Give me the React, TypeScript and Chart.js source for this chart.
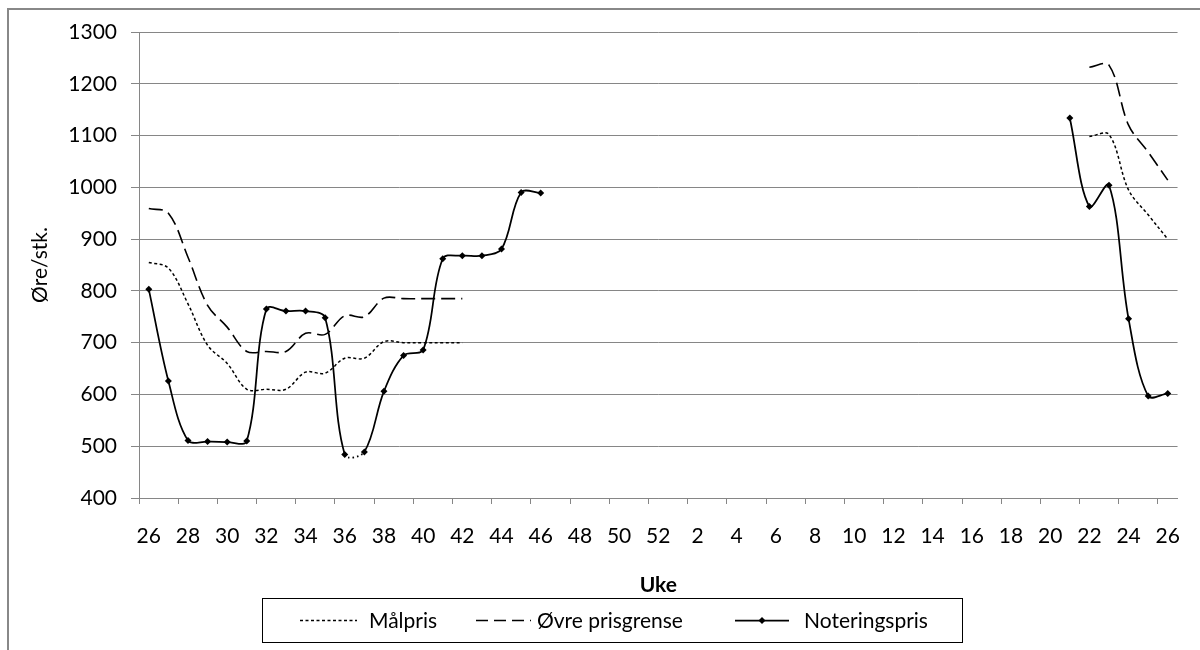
import React, { useEffect, useRef } from "react";
import { Chart, registerables } from "chart.js";

Chart.register(...registerables);

const FONT = "Lato, 'Open Sans', sans-serif";

const weeks = [
  "26", "27", "28", "29", "30", "31", "32", "33", "34", "35", "36", "37", "38", "39",
  "40", "41", "42", "43", "44", "45", "46", "47", "48", "49", "50", "51", "52",
  "1", "2", "3", "4", "5", "6", "7", "8", "9", "10", "11", "12", "13", "14", "15",
  "16", "17", "18", "19", "20", "21", "22", "23", "24", "25", "26",
];

const seriesNames = ["Målpris", "Øvre prisgrense", "Noteringspris"];

const malpris = [
  855, 844, 775, 695, 660, 610, 610, 610, 643, 641, 670, 670, 702, 700, 700, 700, 700,
  null, null, null, null, null, null, null, null, null, null,
  null, null, null, null, null, null, null, null, null, null,
  null, null, null, null, null, null, null, null, null, null, null,
  1098, 1102, 995, 947, 900,
];

const ovrePrisgrense = [
  959, 950, 865, 772, 730, 683, 683, 683, 718, 716, 752, 750, 786, 785, 785, 785, 785,
  null, null, null, null, null, null, null, null, null, null,
  null, null, null, null, null, null, null, null, null, null,
  null, null, null, null, null, null, null, null, null, null, null,
  1232, 1236, 1120, 1068, 1014,
];

const noteringspris = [
  803, 626, 511, 509, 508, 510, 765, 761, 761, 748, 484, 489, 606, 675, 686, 862, 868,
  868, 881, 990, 989,
  null, null, null, null, null, null,
  null, null, null, null, null, null, null, null, null, null,
  null, null, null, null, null, null, null, null, null, null,
  1134, 963, 1004, 746, 597, 602,
];

const yTicks = { min: 400, max: 1300, step: 100 };
const yTitle = "Øre/stk.";
const xTitle = "Uke";

const GRID = "#868686";

const legendPlugin = {
  id: "boxLegend",
  afterDraw(chart: any) {
    const ctx = chart.ctx as CanvasRenderingContext2D;
    ctx.save();
    ctx.strokeStyle = "#000";
    ctx.lineWidth = 1;
    ctx.setLineDash([]);
    ctx.strokeRect(262.5, 598.5, 700, 44);
    const y = 620.5;
    const items = [
      { label: seriesNames[0], dash: [3, 2.5], x1: 300, x2: 357, tx: 369, marker: false, w: 1.5 },
      { label: seriesNames[1], dash: [12, 6], x1: 476, x2: 531, tx: 537, marker: false, w: 1.6 },
      { label: seriesNames[2], dash: [], x1: 735, x2: 789, tx: 804, marker: true, w: 1.75 },
    ];
    ctx.font = `21px ${FONT}`;
    ctx.textBaseline = "middle";
    ctx.textAlign = "left";
    for (const it of items) {
      ctx.strokeStyle = "#000";
      ctx.lineWidth = it.w;
      ctx.setLineDash(it.dash);
      ctx.beginPath();
      ctx.moveTo(it.x1, y);
      ctx.lineTo(it.x2, y);
      ctx.stroke();
      ctx.setLineDash([]);
      if (it.marker) {
        const cx = (it.x1 + it.x2) / 2;
        ctx.fillStyle = "#000";
        ctx.beginPath();
        ctx.moveTo(cx, y - 3.5);
        ctx.lineTo(cx + 3.5, y);
        ctx.lineTo(cx, y + 3.5);
        ctx.lineTo(cx - 3.5, y);
        ctx.closePath();
        ctx.fill();
      }
      ctx.fillStyle = "#000";
      ctx.fillText(it.label, it.tx, y + 1);
    }
    ctx.restore();
  },
};

export default function App() {
  const canvasRef = useRef<HTMLCanvasElement | null>(null);

  useEffect(() => {
    let chart: Chart | null = null;
    let cancelled = false;
    const make = () => {
      if (cancelled || !canvasRef.current) return;
      chart = new Chart(canvasRef.current, {
        type: "line",
        data: {
          labels: weeks,
          datasets: [
            {
              label: seriesNames[0],
              data: malpris,
              borderColor: "#000",
              borderWidth: 1.5,
              borderDash: [3, 2.5],
              pointRadius: 0,
              tension: 0.35,
              spanGaps: false,
              fill: false,
            },
            {
              label: seriesNames[1],
              data: ovrePrisgrense,
              borderColor: "#000",
              borderWidth: 1.6,
              borderDash: [14, 6],
              pointRadius: 0,
              tension: 0.35,
              spanGaps: false,
              fill: false,
            },
            {
              label: seriesNames[2],
              data: noteringspris,
              borderColor: "#000",
              backgroundColor: "#000",
              borderWidth: 1.75,
              pointStyle: "rectRot",
              pointRadius: 3.5,
              pointBorderWidth: 0,
              pointBackgroundColor: "#000",
              tension: 0.35,
              spanGaps: false,
              fill: false,
              segment: {
                borderDash: (c: any) => (c.p0DataIndex === 10 ? [1.5, 3] : undefined),
              },
            },
          ] as any,
        },
        options: {
          animation: false,
          responsive: false,
          maintainAspectRatio: false,
          layout: { padding: { top: 32, right: 6, left: 0, bottom: 0 } },
          plugins: {
            legend: { display: false },
            tooltip: { enabled: false },
            title: { display: false },
          },
          scales: {
            x: {
              type: "category",
              offset: true,
              grid: {
                offset: true,
                drawOnChartArea: false,
                drawTicks: true,
                tickLength: 6,
                lineWidth: 1,
                color: (c: any) => (c.index % 2 === 0 ? GRID : "rgba(0,0,0,0)"),
              },
              border: { display: true, color: GRID, width: 1 },
              ticks: {
                autoSkip: false,
                maxRotation: 0,
                minRotation: 0,
                padding: 20,
                color: "#000",
                font: { family: FONT, size: 21 },
                callback: (_v: any, i: number) => (i % 2 === 0 ? weeks[i] : ""),
              },
              title: {
                display: true,
                text: xTitle,
                color: "#000",
                font: { family: FONT, size: 21, weight: "bold" },
                padding: { top: 0, bottom: 52 },
              },
              afterFit: (s: any) => {
                s.height = 152;
              },
            },
            y: {
              min: yTicks.min,
              max: yTicks.max,
              ticks: {
                stepSize: yTicks.step,
                padding: 14,
                color: "#000",
                font: { family: FONT, size: 21 },
                callback: (v: any) => String(v),
              },
              grid: {
                color: GRID,
                lineWidth: 1,
                tickLength: 8,
                drawTicks: true,
              },
              border: { display: true, color: GRID, width: 1 },
              title: {
                display: true,
                text: yTitle,
                color: "#000",
                font: { family: FONT, size: 21 },
                padding: { top: 28, bottom: 0 },
              },
              afterFit: (s: any) => {
                s.width = 139;
              },
            },
          },
        },
        plugins: [legendPlugin],
      } as any);
    };
    const fontsReady = (document as any).fonts
      ? Promise.all([
          (document as any).fonts.load(`21px Lato`),
          (document as any).fonts.load(`bold 21px Lato`),
        ]).catch(() => null)
      : Promise.resolve(null);
    fontsReady.then(make);
    return () => {
      cancelled = true;
      if (chart) chart.destroy();
    };
  }, []);

  return (
    <>
      <div
        style={{
          position: "fixed",
          left: 7,
          top: 8,
          width: 1193,
          height: 642,
          borderLeft: "2px solid #888",
          borderTop: "2px solid #888",
          boxSizing: "border-box",
        }}
      />
      <canvas
        ref={canvasRef}
        width={1200}
        height={650}
        style={{ position: "fixed", left: 0, top: 0, width: 1200, height: 650 }}
      />
    </>
  );
}
